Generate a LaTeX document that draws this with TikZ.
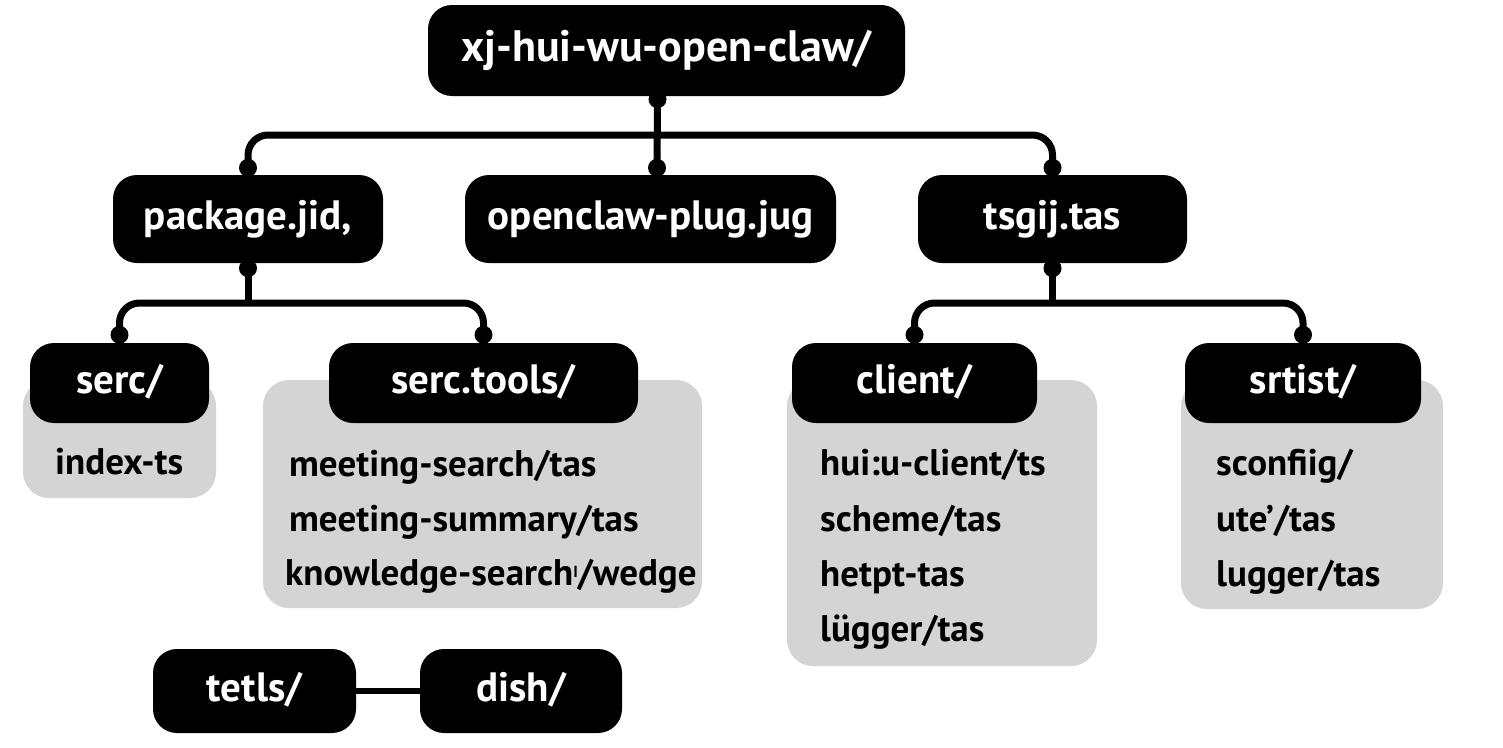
\documentclass[tikz,border=0pt]{standalone}
\usepackage{fontspec}
\setmainfont{PT Sans}
\definecolor{boxgray}{RGB}{212,212,212}
\begin{document}
\begin{tikzpicture}[x=1pt,y=-1pt,
  blk/.style={fill=black, text=white, rounded corners=24pt, font=\bfseries\fontsize{41}{44}\selectfont, inner sep=0pt, text height=30pt, text depth=9pt},
  gbox/.style={fill=boxgray, rounded corners=26pt, inner sep=0pt},
  item/.style={anchor=west, inner sep=0pt, font=\bfseries\fontsize{37}{40}\selectfont, text height=27pt, text depth=9pt},
  conn/.style={line width=7pt, rounded corners=20pt},
  dot/.style={circle, fill=black, minimum size=18pt, inner sep=0pt}]
\useasboundingbox (0,0) rectangle (1503,747);
\fill[white] (0,0) rectangle (1503,747);

% gray panels
\node[gbox, minimum width=193pt, minimum height=118pt] (sercg) at (119.5,439) {};
\node[gbox, minimum width=439pt, minimum height=228pt] (toolsg) at (482.5,494) {};
\node[gbox, minimum width=310pt, minimum height=286pt] (clientg) at (942,523) {};
\node[gbox, minimum width=262pt, minimum height=229pt] (srtistg) at (1312,494.5) {};

% black boxes
\node[blk, minimum width=477pt, minimum height=91pt, font=\bfseries\fontsize{44}{48}\selectfont, text height=32pt, text depth=10pt] (root) at (666.5,50.5) {xj-hui-wu-open-claw/};
\node[blk, minimum width=270pt, minimum height=88pt] (pkg) at (248,219) {package.jid,};
\node[blk, minimum width=371pt, minimum height=88pt] (plug) at (650.5,219) {openclaw-plug.jug};
\node[blk, minimum width=269pt, minimum height=88pt] (tsg) at (1052.5,219) {tsgij.tas};
\node[blk, minimum width=179pt, minimum height=80pt] (serc) at (119.5,383) {serc/};
\node[blk, minimum width=309pt, minimum height=80pt] (tools) at (483.5,383) {serc.tools/};
\node[blk, minimum width=245pt, minimum height=80pt] (client) at (914.5,383) {client/};
\node[blk, minimum width=236pt, minimum height=80pt] (srtist) at (1303,383) {srtist/};
\node[blk, minimum width=203pt, minimum height=84pt] (tetls) at (254.5,691) {tetls/};
\node[blk, minimum width=202pt, minimum height=84pt] (dish) at (521,691) {dish/};

% items
\node[item] (i1) at (55,465) {index-ts};
\node[item] (t1) at (289,467) {meeting-search/tas};
\node[item] (t2) at (289,522) {meeting-summary/tas};
\node[item] (t3) at (285,576) {knowledge-search\raisebox{8pt}{\fontsize{16}{16}\selectfont I}/wedge};
\node[item] (c1) at (820,466) {hui:u-client/ts};
\node[item] (c2) at (820,522) {scheme/tas};
\node[item] (c3) at (820,577) {hetpt-tas};
\node[item] (c4) at (820,632) {lügger/tas};
\node[item] (s1) at (1216,466) {sconfiig/};
\node[item] (s2) at (1216,522) {ute'/tas};
\node[item] (s3) at (1216,577) {lugger/tas};

% connectors
\coordinate (bus1) at (0,135);
\coordinate (bus2) at (0,303);
\draw[conn] ([xshift=-9pt]root.south) -- ([xshift=6.5pt]plug.north);
\draw[conn] (pkg.north) -- (pkg.north |- bus1) -- (tsg.north |- bus1) -- (tsg.north);
\draw[conn] (pkg.south) -- (pkg.south |- bus2);
\draw[conn] (serc.north) -- (serc.north |- bus2) -- (tools.north |- bus2) -- (tools.north);
\draw[conn] (tsg.south) -- (tsg.south |- bus2);
\draw[conn] (client.north) -- (client.north |- bus2) -- (srtist.north |- bus2) -- (srtist.north);
\draw[line width=6pt] (tetls.east) -- (dish.west);

% junction dots
\node[dot] (d0) at ([xshift=-9pt,yshift=-3pt]root.south) {};
\node[dot] (d1) at ([yshift=7pt]pkg.north) {};
\node[dot] (d2) at ([xshift=6.5pt,yshift=7pt]plug.north) {};
\node[dot] (d3) at ([yshift=7pt]tsg.north) {};
\node[dot] (d4) at ([yshift=-5pt]pkg.south) {};
\node[dot] (d5) at ([yshift=-5pt]tsg.south) {};
\node[dot] (d6) at ([yshift=8pt]serc.north) {};
\node[dot] (d7) at ([yshift=8pt]tools.north) {};
\node[dot] (d8) at ([yshift=8pt]client.north) {};
\node[dot] (d9) at ([yshift=8pt]srtist.north) {};
\end{tikzpicture}
\end{document}
